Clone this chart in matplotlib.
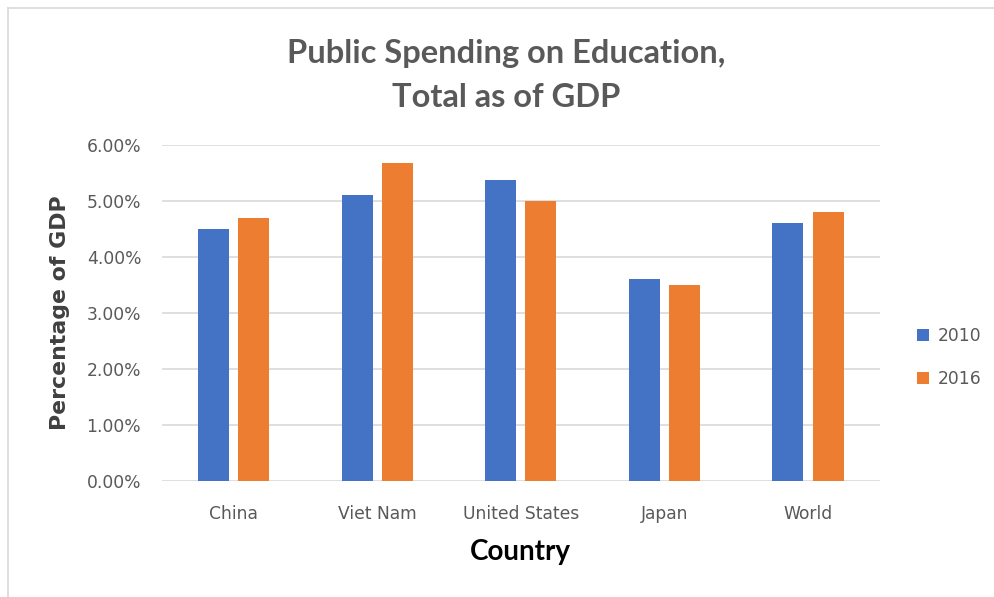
import matplotlib.pyplot as plt
import numpy as np
from matplotlib.lines import Line2D
from matplotlib.ticker import FuncFormatter

countries = ["China", "Viet Nam", "United States", "Japan", "World"]
years = ["2010", "2016"]
spend_2010 = [4.5, 5.1, 5.37, 3.6, 4.6]
spend_2016 = [4.7, 5.67, 5.0, 3.5, 4.8]

blue = "#4472C4"
orange = "#ED7D31"
grey_text = "#595959"

plt.rcParams["font.family"] = ["DejaVu Sans"]

fig = plt.figure(figsize=(9.94, 5.97), dpi=100)
ax = fig.add_axes([0.163, 0.1943, 0.722, 0.563])

x = np.arange(len(countries))
width = 0.216
offset = 0.14
ax.bar(x - offset, spend_2010, width, color=blue, label=years[0], zorder=3)
ax.bar(x + offset, spend_2016, width, color=orange, label=years[1], zorder=3)

ax.set_xlim(-0.5, len(countries) - 0.5)
ax.set_ylim(0, 6)
ax.set_yticks(np.arange(0, 7, 1))
ax.yaxis.set_major_formatter(FuncFormatter(lambda v, _: f"{v:.2f}%"))
ax.set_xticks(x)
ax.set_xticklabels(countries)
ax.grid(axis="y", color="#D9D9D9", linewidth=1.2, zorder=0)
for side in ["top", "right", "left", "bottom"]:
    ax.spines[side].set_visible(False)
ax.tick_params(axis="both", length=0, labelsize=12.3, labelcolor=grey_text)
ax.tick_params(axis="y", pad=15)
ax.tick_params(axis="x", pad=17)

ax.set_xlabel("Country", fontsize=20, fontweight="bold", color="black",
              labelpad=12, family=["Lato", "DejaVu Sans"])
ax.set_ylabel("Percentage of GDP", fontsize=15.8, fontweight="bold", color="#404040",
              labelpad=12)

fig.text(0.509, 0.910, "Public Spending on Education,", ha="center", va="center",
         fontsize=23.5, fontweight="bold", color=grey_text, family=["Lato", "DejaVu Sans"])
fig.text(0.509, 0.837, "Total as of GDP", ha="center", va="center",
         fontsize=23.5, fontweight="bold", color=grey_text, family=["Lato", "DejaVu Sans"])

fig.legend(loc="center left", bbox_to_anchor=(0.907, 0.401), frameon=False,
           fontsize=12.3, handlelength=0.7, handleheight=0.7, labelspacing=1.5,
           handletextpad=0.5, labelcolor=grey_text)

# outer chart border (only top and left visible in the reference)
fig.add_artist(Line2D([0.008, 0.008], [0, 0.987], transform=fig.transFigure,
                      color="#D9D9D9", linewidth=1.2))
fig.add_artist(Line2D([0.008, 1], [0.987, 0.987], transform=fig.transFigure,
                      color="#D9D9D9", linewidth=1.2))

fig.savefig("out.png", dpi=100)
plt.close(fig)
